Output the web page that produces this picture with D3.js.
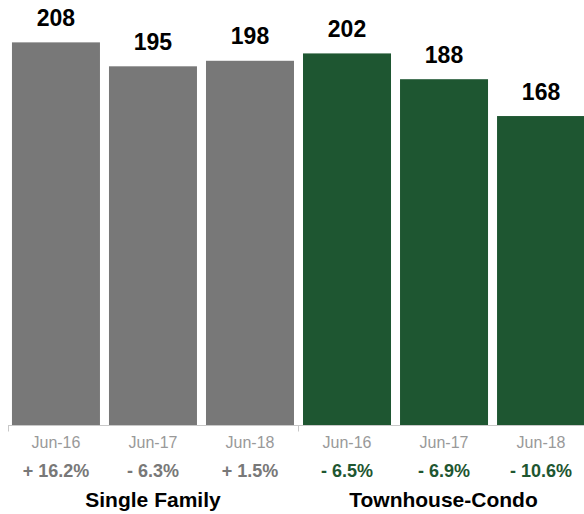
<!DOCTYPE html>
<html><head><meta charset="utf-8">
<script src="https://cdn.jsdelivr.net/npm/d3@7"></script>
<style>body{margin:0;background:#fff}svg{display:block}text{font-family:"Liberation Sans",Arial,Helvetica,sans-serif}</style>
</head><body>
<svg id="c" width="584" height="514"></svg>
<script>
const categories = ["Jun-16","Jun-17","Jun-18","Jun-16","Jun-17","Jun-18"];
const values = [208,195,198,202,188,168];
const changes = ["+ 16.2%","- 6.3%","+ 1.5%","- 6.5%","- 6.9%","- 10.6%"];
const groupOf = [0,0,0,1,1,1];
const groups = ["Single Family","Townhouse-Condo"];
const groupColors = ["#787878","#1e5631"];
const changeColors = ["#787878","#1e5631"];

const svg = d3.select("#c");
const idx = d3.range(values.length);
const x = d3.scaleBand().domain(idx).range([7.5,589.5]).paddingInner(0.093).paddingOuter(0.046);
const y = d3.scaleLinear().domain([0,231]).range([425.5,0]);

svg.selectAll("rect.bar").data(idx).join("rect")
  .attr("x",i=>x(i)).attr("width",x.bandwidth())
  .attr("y",i=>y(values[i])).attr("height",i=>y(0)-y(values[i]))
  .attr("fill",i=>groupColors[groupOf[i]]);

svg.selectAll("text.val").data(idx).join("text")
  .attr("x",i=>x(i)+x.bandwidth()/2).attr("y",i=>y(values[i])-16.5)
  .attr("text-anchor","middle").attr("font-size",23).attr("font-weight","bold").attr("fill","#000")
  .text(i=>values[i]);

// axis
const ax = svg.append("g").attr("transform","translate(0,425.5)");
ax.append("line").attr("x1",8).attr("x2",584).attr("stroke","#c8c8c8");
[8,298].forEach(t=>ax.append("line").attr("x1",t+0.5).attr("x2",t+0.5).attr("y1",0).attr("y2",6).attr("stroke","#c8c8c8"));

svg.selectAll("text.cat").data(idx).join("text")
  .attr("x",i=>x(i)+x.bandwidth()/2).attr("y",447.5)
  .attr("text-anchor","middle").attr("font-size",16).attr("fill","#999")
  .text(i=>categories[i]);

svg.selectAll("text.chg").data(idx).join("text")
  .attr("x",i=>x(i)+x.bandwidth()/2).attr("y",476.5)
  .attr("text-anchor","middle").attr("font-size",18).attr("font-weight","bold")
  .attr("fill",i=>changeColors[groupOf[i]])
  .text(i=>changes[i]);

groups.forEach((g,gi)=>{
  const members = idx.filter(i=>groupOf[i]===gi);
  const x0 = x(members[0]), x1 = Math.min(584, x(members[members.length-1])+x.bandwidth());
  svg.append("text").attr("x",(x0+x1)/2).attr("y",507)
    .attr("text-anchor","middle").attr("font-size",21).attr("font-weight","bold").attr("fill","#000")
    .text(g);
});
</script>
</body></html>
